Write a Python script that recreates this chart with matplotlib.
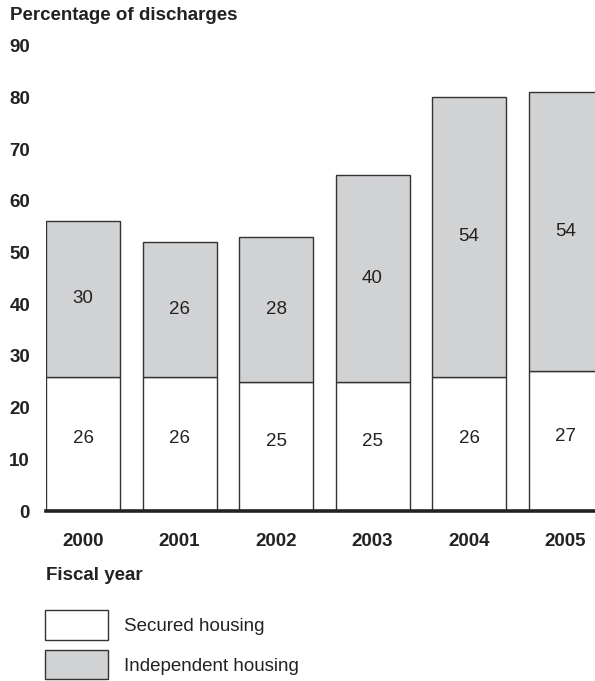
import matplotlib
matplotlib.use("Agg")
import matplotlib.pyplot as plt
from matplotlib.patches import Patch

plt.rcParams['font.family'] = ['Liberation Sans', 'DejaVu Sans']

years = ["2000", "2001", "2002", "2003", "2004", "2005"]
secured = [26, 26, 25, 25, 26, 27]
independent = [30, 26, 28, 40, 54, 54]
yticks = [0, 10, 20, 30, 40, 50, 60, 70, 80, 90]

W, H = 595, 681
FS = 13.5
fig = plt.figure(figsize=(W / 100, H / 100), dpi=100)
ax = fig.add_axes([46 / W, 1 - 511 / H, 1 - 46 / W, (511 - 45.6) / H])

gray = "#d1d2d4"
edge = "#333333"
x = list(range(len(years)))
bw = 0.767
ax.bar(x, secured, width=bw, color="white", edgecolor=edge, linewidth=1.0, zorder=2)
ax.bar(x, independent, width=bw, bottom=secured, color=gray, edgecolor=edge, linewidth=1.0, zorder=2)

for i in x:
    ax.text(i, secured[i] / 2 + 1, str(secured[i]), ha="center", va="center", fontsize=FS, color="#222222", zorder=3)
    ax.text(i, secured[i] + independent[i] / 2, str(independent[i]), ha="center", va="center", fontsize=FS, color="#222222", zorder=3)

ax.set_xlim(-bw / 2 - 0.001, (595 - 83) / 96.5)
ax.set_ylim(0, 90)
ax.set_yticks(yticks)
ax.set_yticklabels([str(v) for v in yticks], fontweight="bold", fontsize=FS, color="#222222")
ax.set_xticks(x)
ax.set_xticklabels(years, fontweight="bold", fontsize=FS, color="#222222")
ax.tick_params(axis="both", length=0)
ax.tick_params(axis="y", pad=11.5)
ax.tick_params(axis="x", pad=16)
for s in ["left", "right", "top"]:
    ax.spines[s].set_visible(False)
ax.spines["bottom"].set_linewidth(2.6)
ax.spines["bottom"].set_color("#222222")
ax.spines["bottom"].set_zorder(5)

fig.text(10 / W, 1 - 15 / H, "Percentage of discharges", fontweight="bold", fontsize=FS,
         ha="left", va="center", color="#222222")
fig.text(46 / W, 1 - 575 / H, "Fiscal year", fontweight="bold", fontsize=FS,
         ha="left", va="center", color="#222222")

handles = [Patch(facecolor="white", edgecolor=edge, linewidth=1.0, label="Secured housing"),
           Patch(facecolor=gray, edgecolor=edge, linewidth=1.0, label="Independent housing")]
fig.legend(handles=handles, loc="upper left", bbox_to_anchor=(45 / W, 1 - 610 / H),
           frameon=False, fontsize=FS, handlelength=3.36, handleheight=2.05,
           handletextpad=0.85, labelspacing=0.55, borderpad=0, borderaxespad=0,
           labelcolor="#222222")

fig.savefig("out.png", dpi=100)
